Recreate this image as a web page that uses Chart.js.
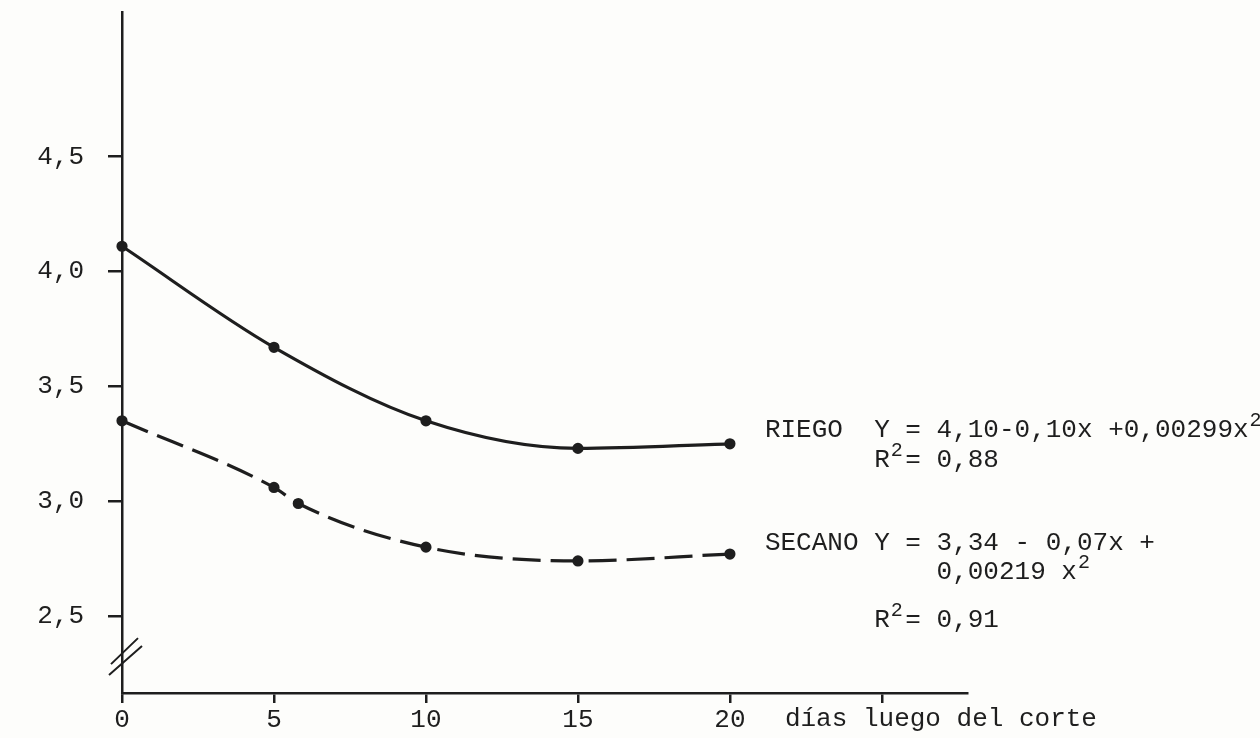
<!DOCTYPE html>
<html>
<head>
<meta charset="utf-8">
<script src="https://cdn.jsdelivr.net/npm/chart.js@4.4.0/dist/chart.umd.min.js"></script>
<style>
  html, body { margin: 0; padding: 0; background: #fdfdfb; }
  canvas { display: block; }
</style>
</head>
<body>
<canvas id="grafico" width="1260" height="738"></canvas>
<script>
// dias luego del corte
const dias = [0, 5, 10, 15, 20];
const riego = [4.11, 3.67, 3.35, 3.23, 3.25];
// secano tiene un punto extra marcado cerca de x=6
const secanoDias = [0, 5, 5.8, 10, 15, 20];
const secano = [3.35, 3.06, 2.99, 2.80, 2.74, 2.77];

const ticksY = [2.5, 3.0, 3.5, 4.0, 4.5];
const ticksX = [0, 5, 10, 15, 20, 25];
const etiquetasX = ['0', '5', '10', '15', '20', ''];

const tinta = '#1e1e1e';
const fuente = 'Liberation Mono';

// escribe texto en celdas de ancho fijo, con superindices
function escribir(ctx, x0, y, cw, partes) {
    let col = 0;
    partes.forEach(p => {
        if (p.sup) {
            ctx.font = '20px "' + fuente + '"';
            ctx.fillText(p.t, x0 + col * cw + 1, y - 9);
        } else {
            ctx.font = '26px "' + fuente + '"';
            ctx.fillText(p.t, x0 + col * cw, y);
        }
        col += p.t.length;
    });
}

const anotaciones = {
    id: 'anotaciones',
    afterDraw(chart) {
        const { ctx, chartArea, scales: { x, y } } = chart;
        ctx.save();
        ctx.fillStyle = tinta;
        ctx.strokeStyle = tinta;
        ctx.textBaseline = 'middle';
        ctx.textAlign = 'left';
        ctx.font = '26px "' + fuente + '"';
        const cw = ctx.measureText('0').width;

        // corte del eje y
        const yc = y.getPixelForValue(2.33);
        const l = chartArea.left;
        ctx.lineWidth = 2;
        ctx.beginPath();
        ctx.moveTo(l - 11, yc + 9); ctx.lineTo(l + 16, yc - 17);
        ctx.moveTo(l - 13, yc + 20); ctx.lineTo(l + 20, yc - 9);
        ctx.stroke();

        // titulo eje x
        ctx.fillText('días luego del corte', x.getPixelForValue(20) + 55, chartArea.bottom + 26);

        // ecuaciones
        const x0 = x.getPixelForValue(20) + 35;
        const y1 = y.getPixelForValue(3.31);
        escribir(ctx, x0, y1, cw, [{ t: 'RIEGO  Y = 4,10-0,10x +0,00299x' }, { t: '2', sup: true }]);
        escribir(ctx, x0, y1 + 30, cw, [{ t: '       R' }, { t: '2', sup: true }, { t: '= 0,88' }]);
        escribir(ctx, x0, y1 + 113, cw, [{ t: 'SECANO Y = 3,34 - 0,07x +' }]);
        escribir(ctx, x0, y1 + 142, cw, [{ t: '           0,00219 x' }, { t: '2', sup: true }]);
        escribir(ctx, x0, y1 + 190, cw, [{ t: '       R' }, { t: '2', sup: true }, { t: '= 0,91' }]);
        ctx.restore();
    }
};

const data = {
    datasets: [{
        label: 'RIEGO',
        data: dias.map((d, i) => ({ x: d, y: riego[i] })),
        borderColor: tinta,
        backgroundColor: tinta,
        borderWidth: 3.2,
        pointRadius: 4,
        cubicInterpolationMode: 'monotone',
        clip: false
    }, {
        label: 'SECANO',
        data: secanoDias.map((d, i) => ({ x: d, y: secano[i] })),
        borderColor: tinta,
        backgroundColor: tinta,
        borderWidth: 3.2,
        borderDash: [28, 10],
        pointRadius: 4,
        cubicInterpolationMode: 'monotone',
        clip: false
    }]
};

const config = {
    type: 'line',
    data: data,
    plugins: [anotaciones],
    options: {
        responsive: false,
        animation: false,
        layout: { padding: { top: 12, right: 293, left: 0, bottom: 0 } },
        plugins: {
            legend: { display: false },
            tooltip: { enabled: false }
        },
        scales: {
            x: {
                type: 'linear',
                min: 0,
                max: 27.8,
                afterBuildTicks: s => { s.ticks = ticksX.map(v => ({ value: v })); },
                afterFit: s => { s.height = 45; },
                border: { display: true, color: tinta, width: 2.5 },
                grid: { drawOnChartArea: false, drawTicks: true, tickLength: 10, color: tinta, lineWidth: 2.5 },
                ticks: {
                    font: { family: fuente, size: 26 },
                    color: tinta,
                    padding: 2,
                    maxRotation: 0,
                    callback: (v, i) => etiquetasX[i]
                }
            },
            y: {
                min: 2.165,
                max: 5.13,
                afterBuildTicks: s => { s.ticks = ticksY.map(v => ({ value: v })); },
                afterFit: s => { s.width = 122; s.paddingTop = 0; s.paddingBottom = 0; },
                border: { display: true, color: tinta, width: 2.5 },
                grid: { drawOnChartArea: false, drawTicks: true, tickLength: 14, color: tinta, lineWidth: 2.5 },
                ticks: {
                    font: { family: fuente, size: 26 },
                    color: tinta,
                    padding: 24,
                    callback: v => v.toFixed(1).replace('.', ',')
                }
            }
        }
    }
};

const miGrafico = new Chart(document.getElementById('grafico'), config);
</script>
</body>
</html>
